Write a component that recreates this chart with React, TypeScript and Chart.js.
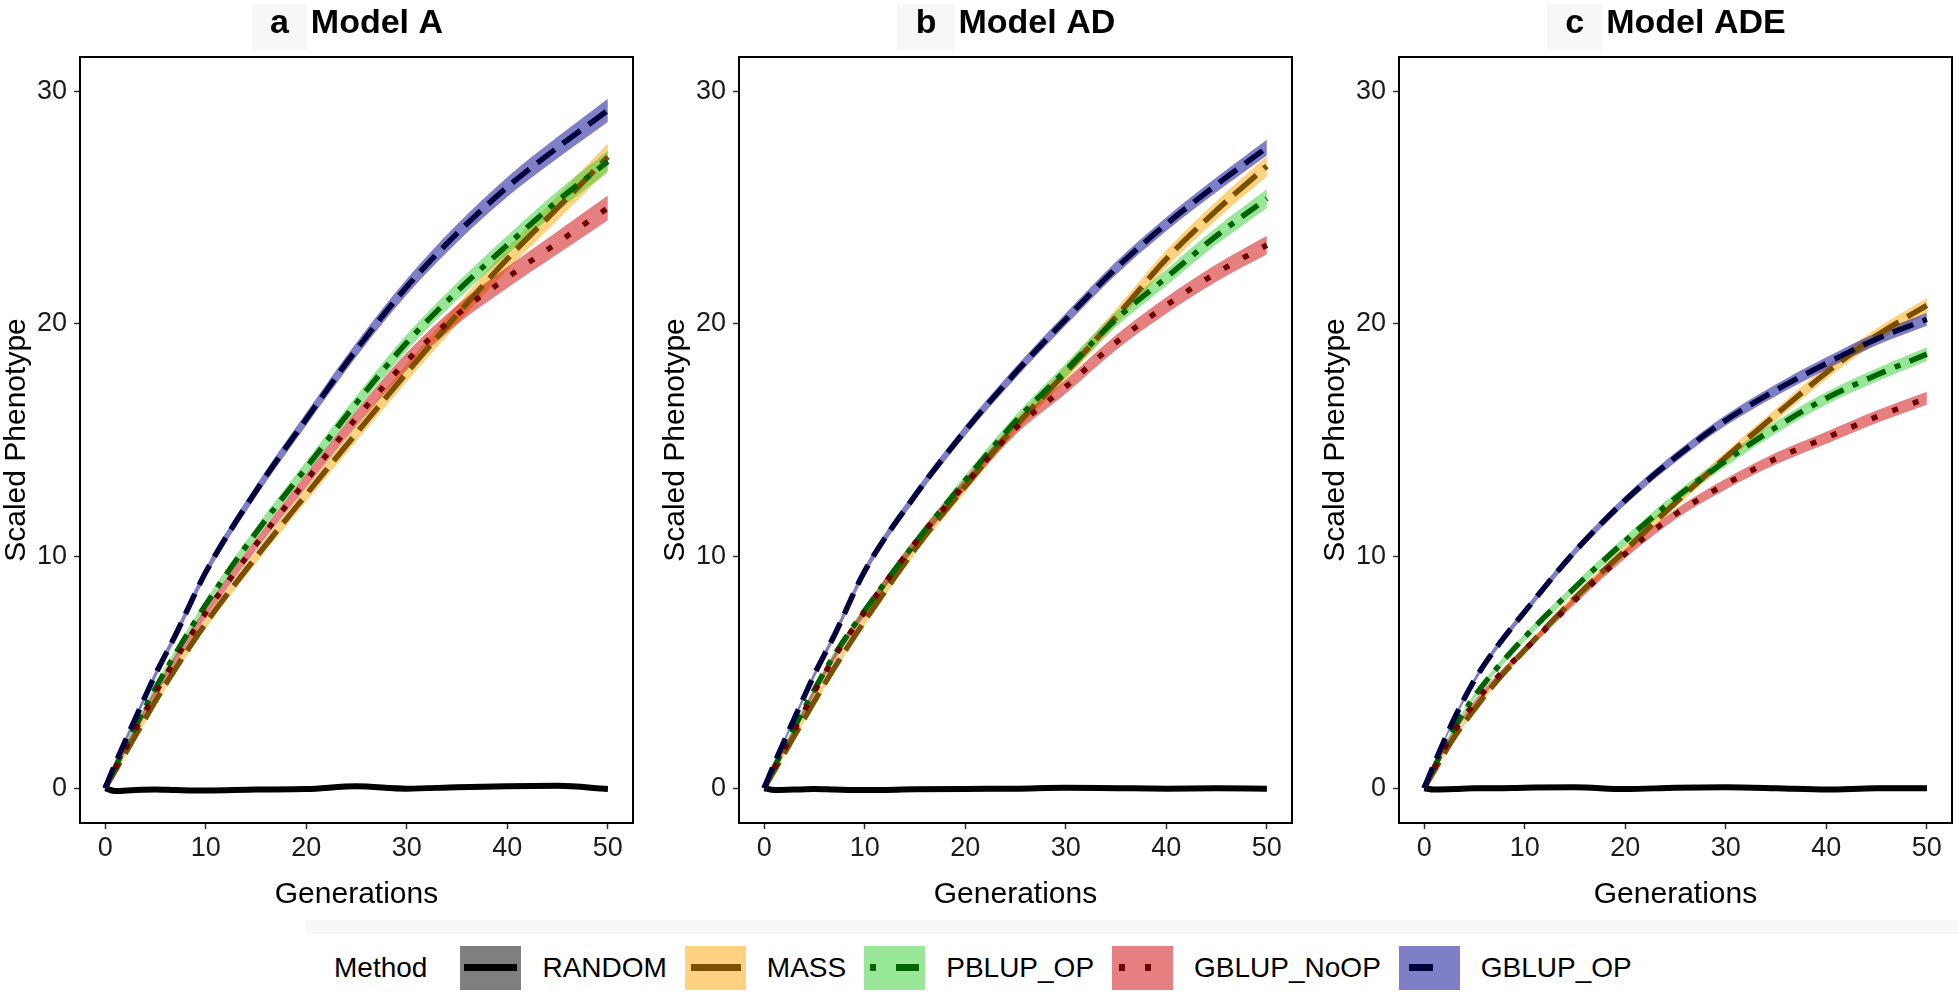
import React, { useEffect, useRef } from 'react';
import { Chart, registerables } from 'chart.js';

Chart.register(...registerables);

// ---------------- data ----------------
const GENERATIONS = [0, 1, 3, 5, 7, 10, 15, 20, 25, 30, 35, 40, 45, 50];
const METHODS = ['RANDOM', 'MASS', 'PBLUP_OP', 'GBLUP_NoOP', 'GBLUP_OP'];
const X_TICKS = [0, 10, 20, 30, 40, 50];
const Y_TICKS = [0, 10, 20, 30];
const PANEL_LETTERS = ['a', 'b', 'c'];
const PANEL_NAMES = ['Model A', 'Model AD', 'Model ADE'];

// Model A (mean scaled phenotype)
const A_RANDOM = [0, -0.12, -0.08, -0.06, -0.08, -0.1, -0.06, -0.04, 0.08, -0.02, 0.04, 0.08, 0.1, -0.04];
const A_MASS = [0, 0.75, 2.25, 3.75, 5.15, 7.1, 9.95, 12.65, 15.3, 17.9, 20.4, 22.8, 25.0, 27.2];
const A_PBLUP = [0, 0.9, 2.65, 4.3, 5.8, 7.9, 11.0, 13.8, 16.6, 19.2, 21.4, 23.4, 25.3, 27.0];
const A_NOOP = [0, 0.85, 2.5, 4.1, 5.55, 7.55, 10.5, 13.25, 15.95, 18.4, 20.4, 22.0, 23.5, 25.0];
const A_GOP = [0, 1.05, 3.0, 4.9, 6.6, 9.3, 12.8, 15.9, 18.9, 21.6, 23.9, 25.9, 27.6, 29.2];

// Model AD
const B_RANDOM = [0, -0.08, -0.06, -0.04, -0.06, -0.08, -0.05, -0.03, -0.02, 0.02, 0.0, -0.02, 0.0, -0.02];
const B_MASS = [0, 0.75, 2.25, 3.75, 5.2, 7.2, 10.3, 13.0, 15.6, 17.9, 20.3, 22.8, 24.9, 26.8];
const B_PBLUP = [0, 0.9, 2.6, 4.25, 5.75, 7.65, 10.55, 13.25, 15.8, 18.0, 20.2, 22.0, 23.8, 25.4];
const B_NOOP = [0, 0.85, 2.5, 4.15, 5.65, 7.6, 10.55, 13.1, 15.5, 17.3, 19.2, 20.8, 22.2, 23.4];
const B_GOP = [0, 1.05, 3.0, 4.9, 6.6, 9.35, 12.6, 15.4, 17.9, 20.2, 22.4, 24.3, 26.0, 27.6];

// Model ADE
const C_RANDOM = [0, -0.06, -0.04, 0.0, 0.0, 0.02, 0.04, -0.04, 0.02, 0.04, 0.0, -0.06, 0.0, 0.0];
const C_MASS = [0, 0.75, 2.2, 3.4, 4.5, 5.95, 8.2, 10.25, 12.3, 14.25, 16.1, 17.9, 19.5, 20.8];
const C_PBLUP = [0, 0.9, 2.6, 3.95, 5.05, 6.5, 8.65, 10.65, 12.5, 14.1, 15.55, 16.8, 17.8, 18.7];
const C_NOOP = [0, 0.85, 2.45, 3.65, 4.65, 5.95, 8.1, 10.1, 11.8, 13.1, 14.2, 15.1, 16.0, 16.8];
const C_GOP = [0, 1.05, 3.0, 4.65, 5.95, 7.6, 10.2, 12.4, 14.25, 15.85, 17.15, 18.3, 19.35, 20.2];

// ribbon half-widths (confidence band)
const RANDOM_SE = [0, 0.08, 0.1, 0.1, 0.1, 0.1, 0.1, 0.1, 0.1, 0.1, 0.1, 0.1, 0.1, 0.1];
const A_MASS_SE = [0, 0.1, 0.15, 0.18, 0.2, 0.22, 0.26, 0.3, 0.34, 0.38, 0.42, 0.47, 0.52, 0.58];
const A_PBLUP_SE = [0, 0.1, 0.14, 0.16, 0.18, 0.2, 0.24, 0.28, 0.31, 0.34, 0.37, 0.4, 0.43, 0.46];
const A_NOOP_SE = [0, 0.1, 0.14, 0.17, 0.19, 0.21, 0.25, 0.29, 0.33, 0.37, 0.41, 0.45, 0.49, 0.53];
const A_GOP_SE = [0, 0.1, 0.14, 0.16, 0.18, 0.2, 0.24, 0.27, 0.3, 0.34, 0.38, 0.42, 0.46, 0.5];
const B_MASS_SE = [0, 0.08, 0.12, 0.15, 0.17, 0.19, 0.22, 0.25, 0.28, 0.31, 0.34, 0.37, 0.4, 0.44];
const B_PBLUP_SE = [0, 0.08, 0.12, 0.14, 0.16, 0.18, 0.21, 0.24, 0.27, 0.3, 0.32, 0.35, 0.37, 0.4];
const B_NOOP_SE = [0, 0.08, 0.12, 0.14, 0.16, 0.18, 0.21, 0.24, 0.27, 0.3, 0.32, 0.35, 0.37, 0.4];
const B_GOP_SE = [0, 0.08, 0.12, 0.14, 0.16, 0.18, 0.2, 0.22, 0.24, 0.26, 0.28, 0.3, 0.32, 0.34];
const C_MASS_SE = [0, 0.07, 0.1, 0.12, 0.14, 0.16, 0.18, 0.2, 0.22, 0.24, 0.26, 0.28, 0.3, 0.32];
const C_PBLUP_SE = [0, 0.07, 0.1, 0.12, 0.14, 0.16, 0.18, 0.2, 0.22, 0.24, 0.26, 0.27, 0.28, 0.3];
const C_NOOP_SE = [0, 0.07, 0.1, 0.12, 0.13, 0.15, 0.17, 0.19, 0.21, 0.23, 0.25, 0.26, 0.27, 0.28];
const C_GOP_SE = [0, 0.07, 0.1, 0.12, 0.13, 0.15, 0.17, 0.19, 0.21, 0.23, 0.25, 0.26, 0.27, 0.28];

const PANEL_MEANS = [
  [A_RANDOM, A_MASS, A_PBLUP, A_NOOP, A_GOP],
  [B_RANDOM, B_MASS, B_PBLUP, B_NOOP, B_GOP],
  [C_RANDOM, C_MASS, C_PBLUP, C_NOOP, C_GOP],
];
const PANEL_SES = [
  [RANDOM_SE, A_MASS_SE, A_PBLUP_SE, A_NOOP_SE, A_GOP_SE],
  [RANDOM_SE, B_MASS_SE, B_PBLUP_SE, B_NOOP_SE, B_GOP_SE],
  [RANDOM_SE, C_MASS_SE, C_PBLUP_SE, C_NOOP_SE, C_GOP_SE],
];

// ---------------- styles ----------------
const FONT = '"Liberation Sans", Arial, Helvetica, sans-serif';
const RIBBON_COLORS = [
  'rgba(0,0,0,0.5)',
  'rgba(255,165,0,0.5)',
  'rgba(50,205,50,0.5)',
  'rgba(205,0,0,0.5)',
  'rgba(0,0,145,0.5)',
];
const KEY_FILLS = ['#7f7f7f', '#fed280', '#98e698', '#e67f7f', '#7f7fc8'];
const LINE_COLORS = ['#000000', '#7a4f00', '#006400', '#6e0000', '#00003f'];
const LINE_WIDTHS = [6, 5.5, 5.5, 5.5, 5.5];
const LINE_DASHES: number[][] = [[], [30, 10], [6, 10, 20, 10], [6, 16], [22, 10]];

const AXIS_W = 81;
const CANVAS_W = 649;
const CANVAS_H = 913;
const PANEL_AREA_LEFT = [80, 739, 1399];

const panelDecor = {
  id: 'panelDecor',
  afterDraw(chart: any, _args: any, opts: any) {
    const { ctx, chartArea } = chart;
    ctx.save();
    ctx.font = `bold 34px ${FONT}`;
    const letter = opts.letter as string;
    const name = opts.name as string;
    const wL = ctx.measureText(letter).width;
    const wN = ctx.measureText(name).width;
    const gap = 22;
    const total = wL + gap + wN;
    const cx = (chartArea.left + chartArea.right) / 2;
    const x0 = cx - total / 2;
    ctx.fillStyle = '#f7f7f7';
    ctx.fillRect(x0 - 18, 4, wL + 36, 46);
    ctx.fillStyle = '#000';
    ctx.textBaseline = 'middle';
    ctx.textAlign = 'left';
    ctx.fillText(letter, x0, 24);
    ctx.fillText(name, x0 + wL + gap, 24);
    ctx.lineWidth = 2;
    ctx.strokeStyle = '#000';
    ctx.strokeRect(chartArea.left, chartArea.top, chartArea.right - chartArea.left, chartArea.bottom - chartArea.top);
    ctx.restore();
  },
};

function buildDatasets(p: number) {
  const means = PANEL_MEANS[p];
  const ses = PANEL_SES[p];
  const ds: any[] = [];
  METHODS.forEach((m, i) => {
    ds.push({
      label: m,
      data: GENERATIONS.map((g, j) => ({ x: g, y: means[i][j] })),
      borderColor: LINE_COLORS[i],
      borderWidth: LINE_WIDTHS[i],
      borderDash: LINE_DASHES[i],
      borderCapStyle: 'butt',
      borderJoinStyle: 'round',
      pointRadius: 0,
      fill: false,
      cubicInterpolationMode: 'monotone',
      order: 5 - i,
    });
  });
  METHODS.forEach((m, i) => {
    ds.push({
      label: m + ' upper',
      data: GENERATIONS.map((g, j) => ({ x: g, y: means[i][j] + ses[i][j] })),
      borderColor: 'rgba(0,0,0,0)',
      borderWidth: 0,
      pointRadius: 0,
      backgroundColor: RIBBON_COLORS[i],
      fill: '+1',
      cubicInterpolationMode: 'monotone',
      order: 20 - i,
    });
    ds.push({
      label: m + ' lower',
      data: GENERATIONS.map((g, j) => ({ x: g, y: means[i][j] - ses[i][j] })),
      borderColor: 'rgba(0,0,0,0)',
      borderWidth: 0,
      pointRadius: 0,
      fill: false,
      cubicInterpolationMode: 'monotone',
      order: 20 - i,
    });
  });
  return ds;
}

function Panel({ p }: { p: number }) {
  const ref = useRef<HTMLCanvasElement>(null);
  useEffect(() => {
    if (!ref.current) return;
    const chart = new Chart(ref.current, {
      type: 'line',
      data: { datasets: buildDatasets(p) },
      plugins: [panelDecor],
      options: {
        responsive: false,
        animation: false,
        events: [],
        layout: { padding: { top: 57, left: 0, right: 15, bottom: 0 } },
        plugins: {
          legend: { display: false },
          tooltip: { enabled: false },
          title: { display: false },
          filler: { drawTime: 'beforeDatasetsDraw' },
          panelDecor: { letter: PANEL_LETTERS[p], name: PANEL_NAMES[p] },
        } as any,
        scales: {
          x: {
            type: 'linear',
            min: -2.5,
            max: 52.5,
            afterBuildTicks: (s: any) => {
              s.ticks = X_TICKS.map((v) => ({ value: v }));
            },
            afterFit: (s: any) => {
              s.height = 90;
            },
            grid: { drawOnChartArea: false, drawTicks: true, tickLength: 6, tickColor: '#333', tickWidth: 1.5 },
            border: { display: false },
            ticks: { font: { family: FONT, size: 27 }, color: '#1a1a1a', padding: 3, maxRotation: 0, autoSkip: false },
            title: { display: true, text: 'Generations', font: { family: FONT, size: 30 }, color: '#000', padding: 0 },
          },
          y: {
            type: 'linear',
            min: -1.5,
            max: 31.5,
            afterBuildTicks: (s: any) => {
              s.ticks = Y_TICKS.map((v) => ({ value: v }));
            },
            afterFit: (s: any) => {
              s.width = AXIS_W;
            },
            grid: { drawOnChartArea: false, drawTicks: true, tickLength: 6, tickColor: '#333', tickWidth: 1.5 },
            border: { display: false },
            ticks: { font: { family: FONT, size: 27 }, color: '#1a1a1a', padding: 7, autoSkip: false },
            title: { display: true, text: 'Scaled Phenotype', font: { family: FONT, size: 30 }, color: '#000', padding: 0 },
          },
        },
      } as any,
    });
    return () => chart.destroy();
  }, [p]);
  return (
    <canvas
      ref={ref}
      width={CANVAS_W}
      height={CANVAS_H}
      style={{ position: 'absolute', left: PANEL_AREA_LEFT[p] - AXIS_W, top: 0, width: CANVAS_W, height: CANVAS_H }}
    />
  );
}

function KeyGlyph({ i }: { i: number }) {
  const segs: number[][] = [
    [[4, 53]],
    [[6, 50]],
    [[6, 6], [32, 23]],
    [[7, 6], [33, 6]],
    [[10, 24]],
  ][i] as any;
  return (
    <div style={{ position: 'relative', width: 61, height: 44, background: KEY_FILLS[i], flex: 'none' }}>
      {segs.map((s, k) => (
        <div
          key={k}
          style={{ position: 'absolute', left: s[0], width: s[1], top: 18, height: 7, background: LINE_COLORS[i] }}
        />
      ))}
    </div>
  );
}

function Legend() {
  return (
    <div
      style={{
        position: 'absolute',
        left: 334,
        top: 946,
        height: 44,
        display: 'flex',
        alignItems: 'center',
        fontFamily: FONT,
        fontSize: 28,
        color: '#000',
        whiteSpace: 'nowrap',
      }}
    >
      <span>Method</span>
      {METHODS.map((m, i) => (
        <React.Fragment key={m}>
          <div style={{ marginLeft: i === 0 ? 33 : 18 }}>
            <KeyGlyph i={i} />
          </div>
          <span style={{ marginLeft: 21 }}>{m}</span>
        </React.Fragment>
      ))}
    </div>
  );
}

export default function App() {
  return (
    <div
      style={{
        position: 'absolute',
        left: 0,
        top: 0,
        width: 1959,
        height: 992,
        background: '#fff',
        overflow: 'hidden',
      }}
    >
      <div style={{ position: 'absolute', left: 306, top: 920, width: 1653, height: 14, background: '#f8f8f8' }} />
      {[0, 1, 2].map((p) => (
        <Panel key={p} p={p} />
      ))}
      <Legend />
    </div>
  );
}
